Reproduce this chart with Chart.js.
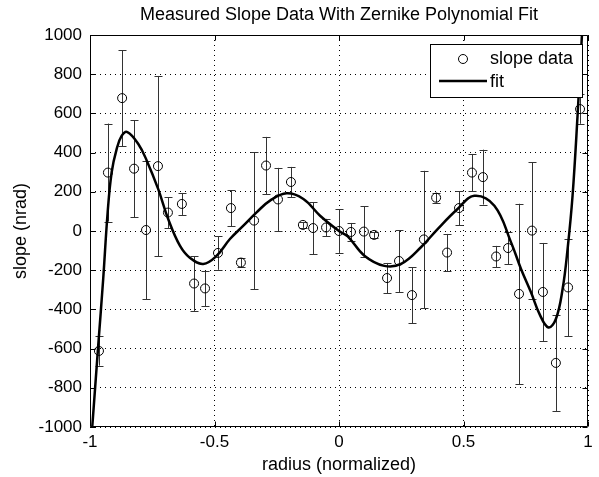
<!DOCTYPE html>
<html>
<head>
<meta charset="utf-8">
<script src="https://cdn.jsdelivr.net/npm/chart.js@4/dist/chart.umd.min.js"></script>
<style>
html,body{margin:0;padding:0;background:#fff;}
canvas{display:block;}
</style>
</head>
<body>
<canvas id="c" width="599" height="477"></canvas>
<script>
// Measured slope data (radius, slope in nrad, error bar half-length)
const radius = [-0.964, -0.928, -0.871, -0.823, -0.775, -0.727, -0.687, -0.631, -0.582, -0.538,
                -0.486, -0.434, -0.394, -0.341, -0.293, -0.245, -0.193, -0.145, -0.104, -0.052,
                0, 0.048, 0.1, 0.141, 0.193, 0.241, 0.293, 0.341, 0.39, 0.434,
                0.482, 0.534, 0.578, 0.631, 0.679, 0.723, 0.775, 0.819, 0.871, 0.92, 0.968];
const slope = [-612, 298, 678, 318, 5, 331, 94, 138, -268, -293,
               -112, 117, -161, 53, 334, 161, 250, 31, 15, 18,
               0, -5, -3, -20, -240, -153, -327, -43, 170, -110,
               117, 298, 275, -130, -87, -321, 2, -311, -673, -288, 622];
const slopeErr = [75, 250, 245, 248, 352, 460, 79, 56, 140, 90,
                  86, 92, 23, 350, 146, 161, 77, 15, 133, 44,
                  112, 46, 130, 15, 77, 158, 143, 350, 25, 95,
                  87, 95, 140, 54, 82, 460, 350, 250, 245, 248, 75];
// Zernike polynomial fit curve
const fitX = [-0.991, -0.967, -0.947, -0.929, -0.913, -0.893, -0.873, -0.850, -0.806, -0.772,
              -0.726, -0.686, -0.639, -0.598, -0.545, -0.491, -0.438, -0.384, -0.331, -0.277,
              -0.210, -0.143, -0.076, 0, 0.035, 0.102, 0.182, 0.249, 0.329, 0.396,
              0.476, 0.543, 0.624, 0.691, 0.731, 0.771, 0.805, 0.841, 0.871, 0.898,
              0.918, 0.938, 0.958, 0.977];
const fitY = [-1000, -585, -245, 97, 300, 418, 485, 505, 444, 359,
              214, 61, -75, -138, -168, -126, -41, 27, 95, 155,
              192, 163, 78, 0, -27, -126, -178, -168, -83, 10,
              112, 180, 129, -58, -194, -313, -423, -492, -449, -296,
              -92, 180, 588, 1031];
const xTicks = [-1, -0.5, 0, 0.5, 1];
const yTicks = [-1000, -800, -600, -400, -200, 0, 200, 400, 600, 800, 1000];
const titleText = 'Measured Slope Data With Zernike Polynomial Fit';
const xLabel = 'radius (normalized)';
const yLabel = 'slope (nrad)';
const legendLabels = ['slope data', 'fit'];

const FONT = '"Liberation Sans", Arial, Helvetica, sans-serif';
const FS = 17;   // tick labels
const FL = 18;   // title, axis labels, legend

const errorBars = {
  id: 'errorBars',
  beforeDatasetsDraw(chart) {
    const {ctx, chartArea, scales: {x, y}} = chart;
    ctx.save();
    ctx.beginPath();
    ctx.rect(chartArea.left, chartArea.top, chartArea.right - chartArea.left, chartArea.bottom - chartArea.top);
    ctx.clip();
    ctx.strokeStyle = '#333';
    ctx.lineWidth = 1;
    for (let i = 0; i < radius.length; i++) {
      const px = Math.round(x.getPixelForValue(radius[i])) + 0.5;
      const y1 = y.getPixelForValue(slope[i] + slopeErr[i]);
      const y2 = y.getPixelForValue(slope[i] - slopeErr[i]);
      ctx.beginPath();
      ctx.moveTo(px, y1); ctx.lineTo(px, y2);
      ctx.moveTo(px - 4, Math.round(y1) + 0.5); ctx.lineTo(px + 4, Math.round(y1) + 0.5);
      ctx.moveTo(px - 4, Math.round(y2) + 0.5); ctx.lineTo(px + 4, Math.round(y2) + 0.5);
      ctx.stroke();
    }
    ctx.restore();
  }
};

const boxAndLegend = {
  id: 'boxAndLegend',
  afterDraw(chart) {
    const {ctx, chartArea: a, scales: {x, y}} = chart;
    ctx.save();
    ctx.strokeStyle = '#000';
    ctx.lineWidth = 1;
    const L = Math.round(a.left) + 0.5, R = Math.round(a.right) - 0.5;
    const T = Math.round(a.top) + 0.5, B = Math.round(a.bottom) - 0.5;
    ctx.beginPath();
    ctx.rect(L, T, R - L, B - T);
    // inward ticks
    xTicks.forEach(v => {
      const px = Math.round(x.getPixelForValue(v)) + 0.5;
      ctx.moveTo(px, B); ctx.lineTo(px, B - 5);
      ctx.moveTo(px, T); ctx.lineTo(px, T + 5);
    });
    yTicks.forEach(v => {
      const py = Math.round(y.getPixelForValue(v)) + 0.5;
      ctx.moveTo(L, py); ctx.lineTo(L + 5, py);
      ctx.moveTo(R, py); ctx.lineTo(R - 5, py);
    });
    ctx.stroke();

    // title centred over the axes
    ctx.fillStyle = '#000';
    ctx.font = FL + 'px ' + FONT;
    ctx.textBaseline = 'middle';
    ctx.textAlign = 'center';
    ctx.fillText(titleText, (a.left + a.right) / 2, 15);

    // legend box
    const lx = 430.5, ly = 44.5, lw = 152, lh = 53;
    ctx.fillStyle = '#fff';
    ctx.fillRect(lx, ly, lw, lh);
    ctx.strokeRect(lx, ly, lw, lh);
    ctx.beginPath();
    ctx.arc(463, 59, 4.5, 0, Math.PI * 2);
    ctx.stroke();
    ctx.lineWidth = 2.5;
    ctx.beginPath();
    ctx.moveTo(439, 81); ctx.lineTo(487, 81);
    ctx.stroke();
    ctx.fillStyle = '#000';
    ctx.textAlign = 'left';
    ctx.fillText(legendLabels[0], 490, 59);
    ctx.fillText(legendLabels[1], 490, 82);
    ctx.restore();
  }
};

new Chart(document.getElementById('c'), {
  type: 'scatter',
  data: {
    datasets: [
      {
        label: legendLabels[0],
        data: radius.map((r, i) => ({x: r, y: slope[i]})),
        showLine: false,
        pointStyle: 'circle',
        pointRadius: 4.5,
        pointBorderWidth: 1,
        pointBorderColor: '#000',
        pointBackgroundColor: 'rgba(0,0,0,0)'
      },
      {
        label: legendLabels[1],
        data: fitX.map((r, i) => ({x: r, y: fitY[i]})),
        showLine: true,
        borderColor: '#000',
        borderWidth: 2.5,
        pointRadius: 0,
        tension: 0.4,
        clip: 0
      }
    ]
  },
  options: {
    responsive: false,
    animation: false,
    devicePixelRatio: 1,
    layout: {padding: {left: 0, right: 11, top: 35, bottom: 0}},
    plugins: {
      legend: {display: false},
      tooltip: {enabled: false},
      title: {display: false}
    },
    scales: {
      x: {
        type: 'linear',
        min: -1, max: 1,
        afterBuildTicks: s => { s.ticks = xTicks.map(v => ({value: v})); },
        afterFit: s => { s.height = 50; },
        ticks: {
          color: '#000',
          font: {family: FONT, size: FS},
          padding: 5,
          maxRotation: 0,
          callback: v => String(v)
        },
        grid: {color: '#000', lineWidth: 1, drawTicks: false},
        border: {display: false, dash: [1, 4]},
        title: {
          display: true, text: xLabel, color: '#000',
          font: {family: FONT, size: FL},
          padding: {top: 1, bottom: 1}
        }
      },
      y: {
        type: 'linear',
        min: -1000, max: 1000,
        afterBuildTicks: s => { s.ticks = yTicks.map(v => ({value: v})); },
        afterFit: s => { s.width = 90; },
        ticks: {
          color: '#000',
          font: {family: FONT, size: FS},
          padding: 8,
          callback: v => String(v)
        },
        grid: {color: '#000', lineWidth: 1, drawTicks: false},
        border: {display: false, dash: [1, 4]},
        title: {
          display: true, text: yLabel, color: '#000',
          font: {family: FONT, size: FL},
          padding: {top: 10, bottom: 10}
        }
      }
    }
  },
  plugins: [errorBars, boxAndLegend]
});
</script>
</body>
</html>
